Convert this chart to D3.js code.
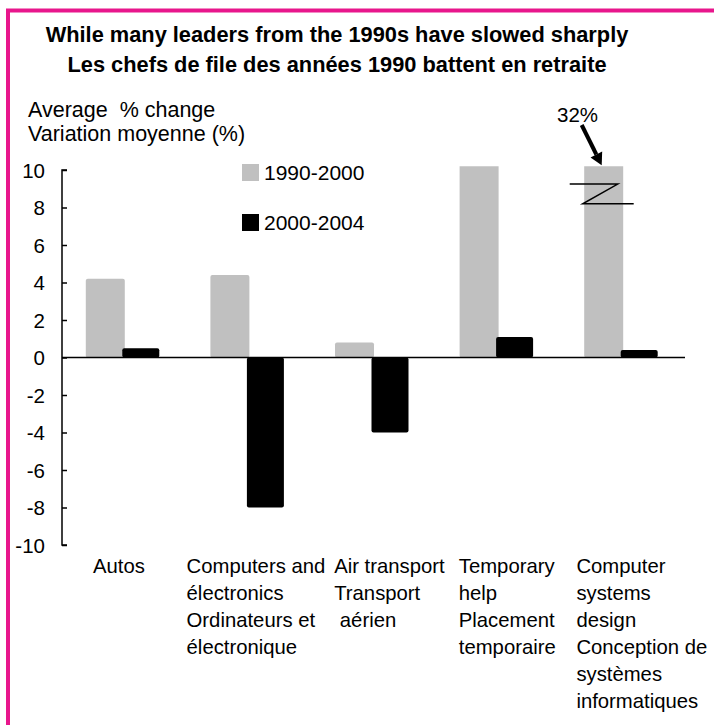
<!DOCTYPE html>
<html><head><meta charset="utf-8">
<script src="https://cdn.jsdelivr.net/npm/d3@7/dist/d3.min.js"></script>
<style>
body{margin:0;background:#fff;overflow:hidden}
svg{display:block}
text{font-family:"Liberation Sans", Arial, Helvetica, sans-serif;white-space:pre;fill:#000}
</style>
</head><body>
<svg id="c" width="714" height="725"></svg>
<script>
// ---------------- data ----------------
const titleLines = ["While many leaders from the 1990s have slowed sharply",
                    "Les chefs de file des années 1990 battent en retraite"];
const axisTitleLines = ["Average  % change", "Variation moyenne (%)"];
const categories = ["Autos", "Computers and électronics", "Air transport", "Temporary help", "Computer systems design"];
const categoryLabelLines = [
  ["Autos"],
  ["Computers and", "électronics", "Ordinateurs et", "électronique"],
  ["Air transport", "Transport", " aérien"],
  ["Temporary", "help", "Placement", "temporaire"],
  ["Computer", "systems", "design", "Conception de", "systèmes", "informatiques"]
];
const seriesNames = ["1990-2000", "2000-2004"];
const values1990_2000 = [4.2, 4.4, 0.8, 10.8, 32];
const values2000_2004 = [0.5, -8.0, -4.0, 1.1, 0.4];
const yTicks = [-10, -8, -6, -4, -2, 0, 2, 4, 6, 8, 10];
const annotationText = "32%";

// ---------------- drawing ----------------
const svg = d3.select("#c");
const colors = ["#c0c0c0", "#000000"];

// pink frame
svg.append("rect").attr("x", 8).attr("y", 10.5).attr("width", 760).attr("height", 760)
  .attr("fill", "none").attr("stroke", "#e8168c").attr("stroke-width", 4);

// title
svg.selectAll("text.title").data(titleLines).join("text")
  .attr("class", "title")
  .attr("x", 337).attr("y", (d, i) => 42 + i * 30)
  .attr("text-anchor", "middle").attr("font-size", 21.8).attr("font-weight", "bold")
  .text(d => d);

// axis title
svg.selectAll("text.atitle").data(axisTitleLines).join("text")
  .attr("class", "atitle")
  .attr("x", 28).attr("y", (d, i) => 117 + i * 24)
  .attr("font-size", 21.5)
  .text(d => d);

const x = d3.scaleBand().domain(categories).range([62, 685]).padding(0);
const y = d3.scaleLinear().domain([-10, 10]).range([545, 170]);

// clip for the plot area
svg.append("clipPath").attr("id", "plot")
  .append("rect").attr("x", 40).attr("y", y(10.2)).attr("width", 680).attr("height", 600);

const plot = svg.append("g").attr("clip-path", "url(#plot)");
const cx = c => x(c) + x.bandwidth() / 2;

plot.selectAll("rect.s0").data(values1990_2000).join("rect")
  .attr("class", "s0")
  .attr("x", (d, i) => cx(categories[i]) - 38.5)
  .attr("width", 39)
  .attr("y", d => y(Math.max(0, d)))
  .attr("height", d => Math.abs(y(d) - y(0)))
  .attr("rx", 2).attr("fill", colors[0]);

// zero line
svg.append("line").attr("x1", 62).attr("x2", 685).attr("y1", y(0)).attr("y2", y(0))
  .attr("stroke", "#000").attr("stroke-width", 1.5);

plot.selectAll("rect.s1").data(values2000_2004).join("rect")
  .attr("class", "s1")
  .attr("x", (d, i) => cx(categories[i]) - 2)
  .attr("width", 37)
  .attr("y", d => y(Math.max(0, d)))
  .attr("height", d => Math.abs(y(d) - y(0)))
  .attr("rx", 2).attr("fill", colors[1]);

// y axis
const yAxis = d3.axisRight(y).tickValues(yTicks).tickSize(5).tickFormat("");
const ga = svg.append("g").attr("transform", "translate(62,0)").call(yAxis);
ga.select(".domain").attr("stroke", "#000").attr("stroke-width", 1.5).attr("d", `M5,${y(10)}H0V${y(-10)}H5`);
ga.selectAll(".tick line").attr("stroke", "#000").attr("stroke-width", 1.5);

svg.selectAll("text.ytick").data(yTicks).join("text")
  .attr("class", "ytick")
  .attr("x", 45).attr("y", d => y(d) + 7.5)
  .attr("text-anchor", "end").attr("font-size", 20.5)
  .text(d => String(d));

// legend
const lg = svg.selectAll("g.leg").data(seriesNames).join("g").attr("class", "leg")
  .attr("transform", (d, i) => `translate(242,${164 + i * 50})`);
lg.append("rect").attr("width", 17).attr("height", 17).attr("fill", (d, i) => colors[i]);
lg.append("text").attr("x", 22).attr("y", 16).attr("font-size", 21).text(d => d);

// category labels
const labelDx = [31, 0, 23, 23, 16];
categoryLabelLines.forEach((lines, i) => {
  svg.append("g").selectAll("text").data(lines).join("text")
    .attr("x", x(categories[i]) + labelDx[i])
    .attr("y", (d, j) => 573 + j * 27)
    .attr("font-size", 20.3)
    .text(d => d);
});

// break symbol on clipped bar
const bc = cx(categories[4]);
svg.append("path")
  .attr("d", `M${bc - 53},${y(9.25)}H${bc - 5}L${bc - 40},${y(8.2)}H${bc + 11}`)
  .attr("fill", "none").attr("stroke", "#000").attr("stroke-width", 1.5);

// annotation arrow
svg.append("text").attr("x", 557).attr("y", 122).attr("font-size", 20.5).text(annotationText);
const ax0 = bc - 41, ay0 = 125, ax1 = bc - 21, ay1 = y(10.2) - 1;
const ang = Math.atan2(ay1 - ay0, ax1 - ax0);
const hl = 12, hw = 6.5;
const bx = ax1 - hl * Math.cos(ang), by = ay1 - hl * Math.sin(ang);
svg.append("line").attr("x1", ax0).attr("y1", ay0).attr("x2", bx).attr("y2", by)
  .attr("stroke", "#000").attr("stroke-width", 4);
svg.append("path")
  .attr("d", `M${ax1},${ay1}L${bx + hw * Math.sin(ang)},${by - hw * Math.cos(ang)}L${bx - hw * Math.sin(ang)},${by + hw * Math.cos(ang)}Z`)
  .attr("fill", "#000");
</script>
</body></html>
